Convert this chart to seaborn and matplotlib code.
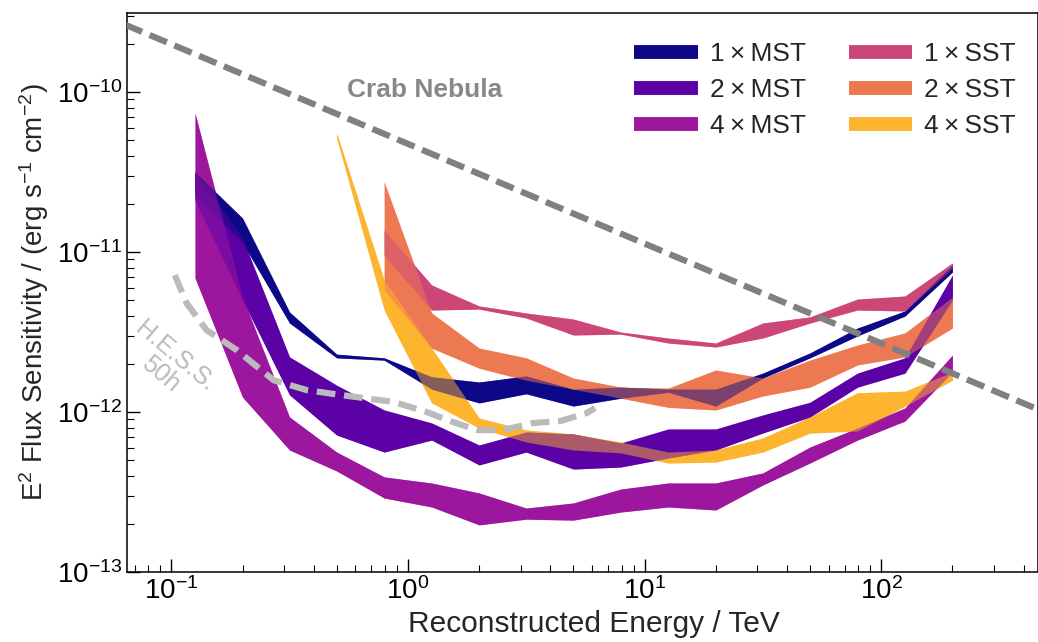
import numpy as np
import pandas as pd
import matplotlib
matplotlib.use("Agg")
import matplotlib.pyplot as plt
from matplotlib.lines import Line2D
import seaborn as sns

# ---------------- data ----------------
energy = [0.126, 0.2, 0.316, 0.5, 0.794, 1.26, 2.0, 3.16, 5.0, 7.94,
          12.6, 20.0, 31.6, 50.0, 79.4, 126.0, 200.0]
energy_sst4 = energy[3:]
energy_sst12 = energy[4:]

mst1_hi = [3.16e-11, 1.63e-11, 4.22e-12, 2.30e-12, 2.18e-12, 1.66e-12, 1.54e-12, 1.68e-12, 1.39e-12,
           1.43e-12, 1.39e-12, 1.39e-12, 1.75e-12, 2.34e-12, 3.35e-12, 4.28e-12, 8.30e-12]
mst1_lo = [2.27e-11, 1.14e-11, 3.60e-12, 2.18e-12, 2.11e-12, 1.39e-12, 1.14e-12, 1.30e-12, 1.09e-12,
           1.22e-12, 1.33e-12, 1.09e-12, 1.63e-12, 2.18e-12, 2.99e-12, 3.98e-12, 7.50e-12]

mst2_hi = [3.16e-11, 1.22e-11, 2.21e-12, 1.47e-12, 1.03e-12, 8.54e-13, 6.22e-13, 7.50e-13, 7.29e-13,
           6.40e-13, 7.83e-13, 7.83e-13, 9.58e-13, 1.15e-12, 1.75e-12, 2.18e-12, 7.18e-12]
mst2_lo = [2.11e-11, 5.01e-12, 1.28e-12, 7.18e-13, 5.62e-13, 6.68e-13, 4.67e-13, 5.62e-13, 4.40e-13,
           4.53e-13, 5.16e-13, 5.79e-13, 7.39e-13, 9.31e-13, 1.43e-12, 1.75e-12, 5.01e-12]

mst4_hi = [7.39e-11, 5.23e-12, 9.31e-13, 5.62e-13, 3.93e-13, 3.60e-13, 3.12e-13, 2.51e-13, 2.70e-13,
           3.30e-13, 3.60e-13, 3.60e-13, 4.16e-13, 6.04e-13, 7.94e-13, 1.06e-12, 2.27e-12]
mst4_lo = [6.88e-12, 1.24e-12, 5.79e-13, 4.28e-13, 2.90e-13, 2.55e-13, 1.97e-13, 2.14e-13, 2.11e-13,
           2.37e-13, 2.55e-13, 2.44e-13, 3.50e-13, 4.80e-13, 6.68e-13, 8.78e-13, 1.78e-12]

sst1_hi = [1.37e-11, 6.22e-12, 4.60e-12, 4.16e-12, 3.81e-12, 3.16e-12, 2.90e-12, 2.70e-12, 3.60e-12,
           3.93e-12, 5.08e-12, 5.31e-12, 8.54e-12]
sst1_lo = [9.58e-12, 4.34e-12, 4.40e-12, 3.87e-12, 3.03e-12, 3.07e-12, 2.70e-12, 2.55e-12, 2.90e-12,
           3.60e-12, 4.34e-12, 4.28e-12, 7.94e-12]

sst2_hi = [2.74e-11, 4.16e-12, 2.51e-12, 2.18e-12, 1.63e-12, 1.43e-12, 1.41e-12, 1.83e-12, 1.63e-12,
           2.11e-12, 2.62e-12, 3.12e-12, 5.23e-12]
sst2_lo = [5.79e-12, 2.51e-12, 1.88e-12, 1.58e-12, 1.39e-12, 1.22e-12, 1.07e-12, 1.03e-12, 1.26e-12,
           1.43e-12, 1.97e-12, 2.21e-12, 3.35e-12]

sst4_hi = [5.54e-11, 6.68e-12, 2.51e-12, 9.17e-13, 7.72e-13, 7.29e-13, 6.49e-13, 5.62e-13, 5.79e-13,
           6.88e-13, 9.31e-13, 1.32e-12, 1.35e-12, 1.78e-12]
sst4_lo = [5.16e-11, 4.34e-12, 1.14e-12, 7.94e-13, 6.49e-13, 5.79e-13, 5.55e-13, 4.80e-13, 4.87e-13,
           5.62e-13, 7.39e-13, 7.61e-13, 1.09e-12, 1.58e-12]

hess_energy = [0.1035, 0.116, 0.141, 0.189, 0.271, 0.374, 0.515, 0.873, 1.20, 1.55, 1.96, 2.52,
               3.38, 4.40, 5.71, 6.18]
hess_flux = [7.18e-12, 4.80e-12, 3.25e-12, 2.44e-12, 1.58e-12, 1.37e-12, 1.28e-12, 1.155e-12,
             1.0e-12, 8.66e-13, 7.72e-13, 7.72e-13, 8.53e-13, 8.78e-13, 9.86e-13, 1.06e-12]

crab_energy = [0.05, 600.0]
crab_flux = [3.07e-10, 8.8e-13]

x_ticks = [0.1, 1.0, 10.0, 100.0]
y_ticks = [1e-13, 1e-12, 1e-11, 1e-10]

labels = ["1\u2009×\u2009MST", "2\u2009×\u2009MST", "4\u2009×\u2009MST",
          "1\u2009×\u2009SST", "2\u2009×\u2009SST", "4\u2009×\u2009SST"]
colors = ["#0d0887", "#5c01a6", "#9c179e", "#cc4778", "#ed7953", "#fdb42f"]

# ---------------- style ----------------
sns.set_theme(style="ticks")
plt.rcParams["font.family"] = ["Liberation Sans", "DejaVu Sans"]
plt.rcParams["mathtext.fontset"] = "custom"
plt.rcParams["mathtext.rm"] = "Liberation Sans"
plt.rcParams["mathtext.it"] = "Liberation Sans:italic"
plt.rcParams["mathtext.bf"] = "Liberation Sans:bold"

fig = plt.figure(figsize=(10.38, 6.42), dpi=100)
ax = fig.add_axes([127 / 1038, 1 - 572 / 642, (1038 - 127) / 1038, (572 - 13) / 642])
ax.set_xscale("log")
ax.set_yscale("log")
ax.set_xlim(0.065, 460)
ax.set_ylim(1e-13, 3.12e-10)
ax.set_xticks(x_ticks)
ax.set_yticks(y_ticks)

series = [
    (energy, mst1_lo, mst1_hi),
    (energy, mst2_lo, mst2_hi),
    (energy, mst4_lo, mst4_hi),
    (energy_sst12, sst1_lo, sst1_hi),
    (energy_sst12, sst2_lo, sst2_hi),
    (energy_sst4, sst4_lo, sst4_hi),
]

# opaque pass, then a half-transparent pass in reverse order -> 50/50 mixes where bands overlap
order = [5, 4, 3, 2, 1, 0]
for idx in order:
    e, lo, hi = series[idx]
    ax.fill_between(e, lo, hi, color=colors[idx], lw=0, alpha=1.0, zorder=2)
for idx in order[::-1]:
    e, lo, hi = series[idx]
    ax.fill_between(e, lo, hi, color=colors[idx], lw=0, alpha=0.5, zorder=3)

sns.lineplot(x=crab_energy, y=crab_flux, ax=ax, color="#808080", lw=4.5,
             linestyle=(0, (3.0, 1.3)), sort=False, legend=False, zorder=4)
sns.lineplot(x=hess_energy, y=hess_flux, ax=ax, color="#bbbbbb", lw=4.5,
             linestyle=(0, (3.0, 1.4)), sort=False, legend=False, zorder=4)

ax.text(1.18, 1.03e-10, "Crab Nebula", color="#888888", fontsize=19, fontweight="bold",
        ha="center", va="center", zorder=5)
ax.text(0.097, 1.95e-12, "H.E.S.S.\n50h", color="#bbbbbb", fontsize=18, rotation=-40,
        ha="center", va="center", linespacing=0.95, rotation_mode="anchor", zorder=5)

handles = [Line2D([], [], color=c, lw=10, solid_capstyle="butt") for c in colors]
ax.legend(handles, labels, ncol=2, loc="upper left", bbox_to_anchor=(0.557, 0.948),
          frameon=False, fontsize=19, handlelength=2.42, handletextpad=0.45,
          columnspacing=1.6, labelspacing=0.45, borderpad=0, borderaxespad=0)

ax.set_xlabel("Reconstructed Energy / TeV", fontsize=21.5, labelpad=6)
ax.xaxis.set_label_coords(0.513, -0.068)
ax.set_ylabel(r"E$^2$ Flux Sensitivity / (erg s$^{-1}$ cm$^{-2}$)", fontsize=20, labelpad=4)

ax.tick_params(which="both", direction="in", top=False, right=False, labelsize=20,
               colors="black")
ax.tick_params(which="major", length=9.5, width=1.0)
ax.tick_params(which="minor", length=5, width=0.8)
for s in ax.spines.values():
    s.set_linewidth(1.1)
    s.set_color("black")

fig.savefig("out.png", dpi=100)
